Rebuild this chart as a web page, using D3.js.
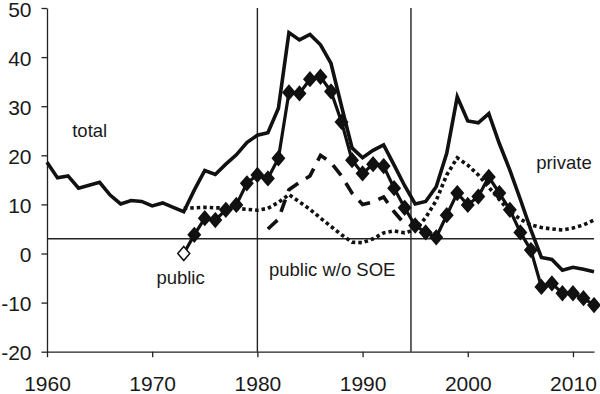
<!DOCTYPE html>
<html>
<head>
<meta charset="utf-8">
<script src="https://cdnjs.cloudflare.com/ajax/libs/d3/7.8.5/d3.min.js"></script>
<style>
  body { margin: 0; background: #fff; }
  svg text { font-family: "Liberation Sans", Arial, sans-serif; fill: #1a1a1a; }
</style>
</head>
<body>
<div id="chart"></div>
<script>
// data
var totalYears = d3.range(1960, 2013);
var totalValues = [18.6, 15.4, 15.8, 13.3, 13.9, 14.5, 11.9, 10.1, 10.8, 10.6,
  9.7, 10.3, 9.4, 8.5, 12.9, 16.9, 16.1, 18.2, 20.1, 22.6,
  24.1, 24.6, 29.6, 45.0, 43.5, 44.6, 42.5, 38.7, 30.0, 21.5,
  19.5, 21.0, 22.1, 18.0, 13.8, 10.1, 10.6, 13.6, 20.4, 31.9,
  27.0, 26.6, 28.5, 22.4, 17.0, 11.0, 4.8, -0.8, -1.2, -3.4,
  -2.8, -3.2, -3.7];

var publicYears = d3.range(1973, 2013);
var publicValues = [0, 3.8, 7.2, 6.8, 8.9, 9.9, 14.3, 16.0, 15.3, 19.4,
  32.8, 32.6, 35.5, 36.0, 33.0, 26.8, 19.0, 16.3, 18.2, 17.8,
  13.3, 9.3, 5.7, 4.3, 3.3, 7.8, 12.3, 9.9, 11.6, 15.6,
  12.3, 8.9, 4.3, 0.7, -6.8, -6.1, -8.1, -8.1, -9.1, -10.5];

var privateYears = d3.range(1973, 2013);
var privateValues = [9.2, 9.3, 9.4, 9.3, 9.3, 9.2, 9.0, 8.8, 9.2, 10.4,
  12.0, 10.5, 9.0, 7.2, 5.5, 3.8, 2.3, 2.2, 3.0, 4.2,
  4.6, 4.2, 4.8, 7.3, 10.8, 16.0, 19.5, 18.0, 16.0, 13.5,
  11.0, 8.5, 7.0, 5.8, 5.3, 5.0, 4.8, 5.2, 5.8, 6.8];

var noSoeYears = d3.range(1981, 1995);
var noSoeValues = [5.0, 7.0, 13.0, 14.5, 15.8, 20.0, 18.5, 15.8, 12.3, 10.0,
  10.5, 11.5, 8.5, 6.0];

var xTicks = [1960, 1970, 1980, 1990, 2000, 2010];
var yTicks = [-20, -10, 0, 10, 20, 30, 40, 50];
var refYears = [1980, 1994.6];
var refLevel = 3;

var labels = [
  {text: "total", x: 1962.4, y: 23.8},
  {text: "private", x: 2006.5, y: 17.3},
  {text: "public", x: 1970.4, y: -6.2},
  {text: "public w/o SOE", x: 1981.1, y: -4.5}
];

var svgWidth = 600;
var svgHeight = 394;

var svg = d3.select("#chart")
  .append("svg")
  .attr("width", svgWidth)
  .attr("height", svgHeight);

// scales
var x = d3.scaleLinear().domain([1960, 2012]).range([47, 594]);
var y = d3.scaleLinear().domain([-20, 50]).range([351.7, 8]);

// axes
var xAxis = d3.axisBottom(x).tickValues(xTicks).tickFormat(d => String(d))
  .tickSize(5.5).tickSizeOuter(0).tickPadding(19);
var yAxis = d3.axisLeft(y).tickValues(yTicks).tickFormat(d => String(d))
  .tickSize(5.5).tickSizeOuter(0).tickPadding(10);

var gx = svg.append("g")
  .attr("transform", `translate(0, ${y(-20)})`)
  .call(xAxis);
var gy = svg.append("g")
  .attr("transform", `translate(${x(1960)}, 0)`)
  .call(yAxis);

[gx, gy].forEach(g => {
  g.selectAll("path, line").attr("stroke", "#222").attr("stroke-width", 1.3);
  g.selectAll("text").attr("font-size", "21px").attr("fill", "#1a1a1a");
});
// nudge y labels down a touch so the top one stays inside
gy.selectAll("text").attr("dy", "0.39em");

// reference lines
svg.append("line")
  .attr("x1", x(1960)).attr("x2", x(2012))
  .attr("y1", y(refLevel)).attr("y2", y(refLevel))
  .attr("stroke", "#222").attr("stroke-width", 1.4);

svg.selectAll(".vref")
  .data(refYears)
  .enter()
  .append("line")
  .attr("class", "vref")
  .attr("x1", d => x(d)).attr("x2", d => x(d))
  .attr("y1", y(50)).attr("y2", y(-20))
  .attr("stroke", "#222").attr("stroke-width", 1.4);

var line = d3.line()
  .x(d => x(d[0]))
  .y(d => y(d[1]));

function pairs(years, values) {
  return years.map((yr, i) => [yr, values[i]]);
}

// private (dotted)
svg.append("path")
  .datum(pairs(privateYears, privateValues))
  .attr("d", line)
  .attr("fill", "none")
  .attr("stroke", "#111")
  .attr("stroke-width", 3.6)
  .attr("stroke-dasharray", "3.5,3");

// public w/o SOE (dashed)
svg.append("path")
  .datum(pairs(noSoeYears, noSoeValues))
  .attr("d", line)
  .attr("fill", "none")
  .attr("stroke", "#111")
  .attr("stroke-width", 3.6)
  .attr("stroke-dasharray", "13,9");

// total
svg.append("path")
  .datum(pairs(totalYears, totalValues))
  .attr("d", line)
  .attr("fill", "none")
  .attr("stroke", "#111")
  .attr("stroke-width", 3.6)
  .attr("stroke-linejoin", "miter");

// public with diamonds
var publicData = pairs(publicYears, publicValues);
svg.append("path")
  .datum(publicData)
  .attr("d", line)
  .attr("fill", "none")
  .attr("stroke", "#111")
  .attr("stroke-width", 3.2);

svg.selectAll(".diamond")
  .data(publicData)
  .enter()
  .append("path")
  .attr("class", "diamond")
  .attr("d", "M0,-7L6,0L0,7L-6,0Z")
  .attr("transform", d => `translate(${x(d[0])}, ${y(d[1])})`)
  .attr("fill", (d, i) => i === 0 ? "#fff" : "#111")
  .attr("stroke", "#111")
  .attr("stroke-width", 1.5);

// series labels
svg.selectAll(".lbl")
  .data(labels)
  .enter()
  .append("text")
  .attr("class", "lbl")
  .attr("x", d => x(d.x))
  .attr("y", d => y(d.y))
  .attr("font-size", "18.5px")
  .text(d => d.text);
</script>
</body>
</html>
